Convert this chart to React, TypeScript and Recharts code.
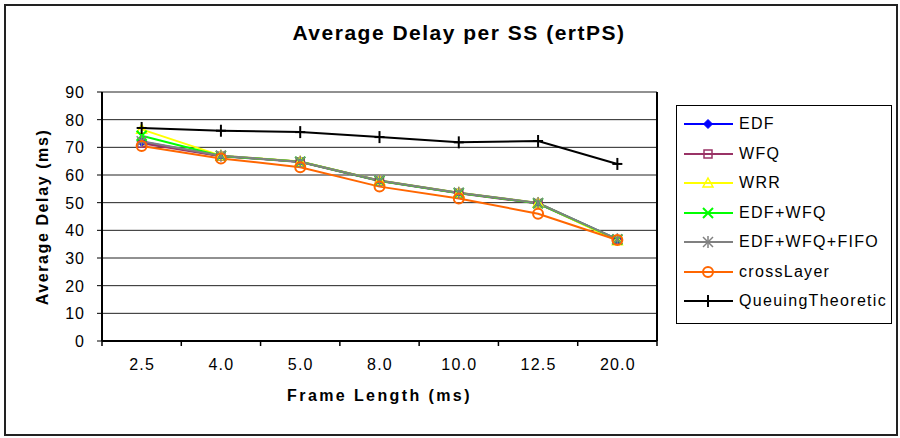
import React from "react";
import {
  LineChart,
  Line,
  XAxis,
  YAxis,
  CartesianGrid,
} from "recharts";

const frameLengths = ["2.5", "4.0", "5.0", "8.0", "10.0", "12.5", "20.0"];
const edf = [72.0, 66.9, 64.8, 57.9, 53.5, 49.8, 36.7];
const wfq = [71.5, 66.8, 64.7, 57.8, 53.4, 49.7, 36.6];
const wrr = [76.5, 67.0, 64.9, 58.0, 53.6, 49.9, 36.2];
const edfWfq = [74.2, 66.9, 64.8, 57.9, 53.5, 49.8, 36.7];
const edfWfqFifo = [72.2, 67.0, 64.8, 58.0, 53.6, 49.9, 36.8];
const crossLayer = [70.5, 66.0, 62.8, 55.8, 51.5, 46.0, 36.5];
const queuingTheoretic = [77.0, 76.0, 75.5, 73.7, 71.8, 72.3, 64.0];
const yTicks = [0, 10, 20, 30, 40, 50, 60, 70, 80, 90];

const series = [
  { key: "edf", name: "EDF", values: edf, color: "#0000FF", shape: "diamond" },
  { key: "wfq", name: "WFQ", values: wfq, color: "#993366", shape: "square" },
  { key: "wrr", name: "WRR", values: wrr, color: "#FFFF00", shape: "triangle" },
  { key: "edfWfq", name: "EDF+WFQ", values: edfWfq, color: "#00FF00", shape: "x" },
  { key: "edfWfqFifo", name: "EDF+WFQ+FIFO", values: edfWfqFifo, color: "#808080", shape: "star" },
  { key: "crossLayer", name: "crossLayer", values: crossLayer, color: "#FF6600", shape: "circle" },
  { key: "queuing", name: "QueuingTheoretic", values: queuingTheoretic, color: "#000000", shape: "plus" },
];

const data = frameLengths.map((f, i) => {
  const row: any = { name: f };
  series.forEach((s) => (row[s.key] = s.values[i]));
  return row;
});

const W = 900;
const H = 438;
const PLOT_LEFT = 102;
const PLOT_RIGHT = 657;
const PLOT_TOP = 92;
const PLOT_BOTTOM = 341;
const Y_AXIS_W = 50;
const X_AXIS_H = 40;
const FONT = "'Liberation Sans', Arial, sans-serif";
const band = (PLOT_RIGHT - PLOT_LEFT) / frameLengths.length;

function marker(shape: string, color: string, cx: number, cy: number) {
  const r = 4.5;
  switch (shape) {
    case "diamond":
      return (
        <polygon
          points={`${cx},${cy - r} ${cx + r},${cy} ${cx},${cy + r} ${cx - r},${cy}`}
          fill={color}
          stroke={color}
        />
      );
    case "square":
      return <rect x={cx - 4} y={cy - 4} width={8} height={8} fill="none" stroke={color} strokeWidth={1.5} />;
    case "triangle":
      return (
        <polygon
          points={`${cx},${cy - 5} ${cx + 5},${cy + 4} ${cx - 5},${cy + 4}`}
          fill="none"
          stroke={color}
          strokeWidth={1.5}
        />
      );
    case "x":
      return (
        <g stroke={color} strokeWidth={2}>
          <line x1={cx - 5} y1={cy - 5} x2={cx + 5} y2={cy + 5} />
          <line x1={cx - 5} y1={cy + 5} x2={cx + 5} y2={cy - 5} />
        </g>
      );
    case "star":
      return (
        <g stroke={color} strokeWidth={1.5}>
          <line x1={cx - 5} y1={cy - 5} x2={cx + 5} y2={cy + 5} />
          <line x1={cx - 5} y1={cy + 5} x2={cx + 5} y2={cy - 5} />
          <line x1={cx} y1={cy - 6} x2={cx} y2={cy + 6} />
        </g>
      );
    case "circle":
      return <circle cx={cx} cy={cy} r={5} fill="none" stroke={color} strokeWidth={2} />;
    default:
      return (
        <g stroke={color} strokeWidth={2}>
          <line x1={cx} y1={cy - 6} x2={cx} y2={cy + 6} />
          <line x1={cx - 5} y1={cy} x2={cx + 5} y2={cy} />
        </g>
      );
  }
}

const makeDot = (shape: string, color: string) => (props: any) => {
  const { cx, cy, index } = props;
  if (cx == null || cy == null) return <g key={index} />;
  return <g key={index}>{marker(shape, color, cx, cy)}</g>;
};

const XTick = (props: any) => {
  const { x, y, payload, index } = props;
  const left = x - band / 2;
  return (
    <g>
      <line x1={left} y1={y} x2={left} y2={y + 5} stroke="#000" strokeWidth={1.5} />
      {index === frameLengths.length - 1 && (
        <line x1={left + band} y1={y} x2={left + band} y2={y + 5} stroke="#000" strokeWidth={1.5} />
      )}
      <text
        x={x + 0.5}
        y={y + 29}
        textAnchor="middle"
        fontSize={16}
        fontFamily={FONT}
        letterSpacing={1.2}
        fill="#000"
      >
        {payload.value}
      </text>
    </g>
  );
};

const YTick = (props: any) => {
  const { x, y, payload } = props;
  return (
    <text x={x} y={y + 6} textAnchor="end" fontSize={16} fontFamily={FONT} letterSpacing={1} fill="#000">
      {payload.value}
    </text>
  );
};

const Legend = () => (
  <div
    style={{
      position: "absolute",
      left: 676,
      top: 105,
      width: 214,
      height: 217,
      border: "1px solid #000",
      background: "#fff",
    }}
  >
    {series.map((s, i) => (
      <div
        key={s.key}
        style={{
          position: "absolute",
          left: 6,
          top: 6 + i * 29.5,
          height: 24,
          display: "flex",
          alignItems: "center",
        }}
      >
        <svg width={52} height={20} style={{ display: "block" }}>
          <line x1={1} y1={10} x2={50} y2={10} stroke={s.color} strokeWidth={2} />
          {marker(s.shape, s.color, 25, 10)}
        </svg>
        <span
          style={{
            fontFamily: FONT,
            fontSize: 16,
            marginLeft: 4,
            letterSpacing: 1.3,
            color: "#000",
            whiteSpace: "nowrap",
          }}
        >
          {s.name}
        </span>
      </div>
    ))}
  </div>
);

export default function App() {
  return (
    <div style={{ position: "absolute", left: 0, top: 0, width: W, height: H, background: "#fff" }}>
      <div
        style={{
          position: "absolute",
          left: 4,
          top: 4,
          width: 890,
          height: 428,
          border: "2px solid #222",
        }}
      />
      <div
        style={{
          position: "absolute",
          left: 0,
          top: 21,
          width: 918,
          textAlign: "center",
          fontFamily: FONT,
          fontWeight: "bold",
          fontSize: 21,
          letterSpacing: 1.5,
        }}
      >
        Average Delay per SS (ertPS)
      </div>
      <div style={{ position: "absolute", left: 0, top: 0 }}>
        <LineChart
          width={W}
          height={H}
          data={data}
          margin={{
            top: PLOT_TOP,
            left: PLOT_LEFT - Y_AXIS_W,
            right: W - PLOT_RIGHT - 1,
            bottom: H - PLOT_BOTTOM - X_AXIS_H,
          }}
        >
          <CartesianGrid vertical={false} stroke="#222" strokeWidth={1} />
          <XAxis
            dataKey="name"
            height={X_AXIS_H}
            padding={{ left: band / 2, right: band / 2 }}
            tickLine={false}
            tickSize={0}
            tickMargin={0}
            interval={0}
            tick={<XTick />}
            axisLine={{ stroke: "#000", strokeWidth: 2 }}
          />
          <YAxis
            width={Y_AXIS_W}
            domain={[0, 90]}
            ticks={yTicks}
            interval={0}
            tickSize={5}
            tickMargin={12}
            axisLine={{ stroke: "#000", strokeWidth: 2 }}
            tickLine={{ stroke: "#000" }}
            tick={<YTick />}
          />
          <YAxis
            yAxisId="right"
            orientation="right"
            width={1}
            domain={[0, 90]}
            tick={false}
            tickLine={false}
            axisLine={{ stroke: "#000", strokeWidth: 2 }}
          />
          {series.map((s) => (
            <Line
              key={s.key}
              dataKey={s.key}
              name={s.name}
              stroke={s.color}
              strokeWidth={2}
              dot={makeDot(s.shape, s.color)}
              activeDot={false}
              isAnimationActive={false}
            />
          ))}
        </LineChart>
      </div>
      <div
        style={{
          position: "absolute",
          left: PLOT_LEFT,
          width: PLOT_RIGHT - PLOT_LEFT,
          top: 387,
          textAlign: "center",
          fontFamily: FONT,
          fontWeight: "bold",
          fontSize: 16,
          letterSpacing: 2.4,
        }}
      >
        Frame Length (ms)
      </div>
      <div
        style={{
          position: "absolute",
          left: 43,
          top: (PLOT_TOP + PLOT_BOTTOM) / 2,
          transform: "translate(-50%, -50%) rotate(-90deg)",
          fontFamily: FONT,
          fontWeight: "bold",
          fontSize: 16,
          letterSpacing: 1.6,
          whiteSpace: "nowrap",
        }}
      >
        Average Delay (ms)
      </div>
      <Legend />
    </div>
  );
}
